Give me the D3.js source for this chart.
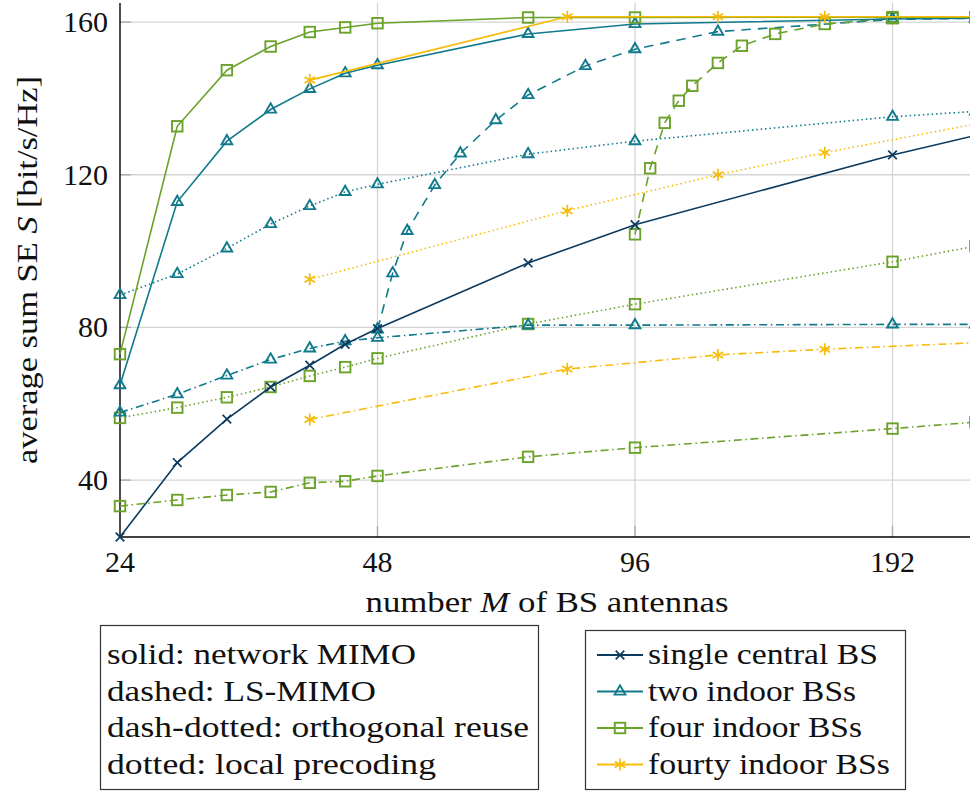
<!DOCTYPE html>
<html>
<head>
<meta charset="utf-8">
<script src="https://cdn.jsdelivr.net/npm/d3@7"></script>
<style>
  html, body { margin: 0; padding: 0; background: #fff; }
  svg { display: block; }
  svg text { fill: #111; }
</style>
</head>
<body>
<svg id="chart" width="970" height="792" font-family="'Liberation Serif', 'DejaVu Serif', 'Noto Serif', serif"></svg>
<script>
// Number of BS antennas used for each group of curves
const M_BASE = [24, 28, 32, 36, 40, 44, 48, 72, 96, 192, 240];
const M_FOURTY = [40, 80, 120, 160, 240];
const M_LS_TWO = [48, 50, 52, 56, 60, 66, 72, 84, 96, 120, 192, 240];
const M_LS_FOUR = [96, 100, 104, 108, 112, 120, 128, 140, 160, 192, 240];

// Average sum SE [bit/s/Hz]
const singleNetwork = [25.1, 44.6, 56.0, 64.4, 70.1, 75.6, 79.7, 96.9, 106.9, 125.2, 130.3];
const twoNetwork    = [64.9, 112.9, 128.8, 137.1, 142.5, 146.6, 148.7, 156.9, 159.5, 160.8, 161.0];
const fourNetwork   = [73.0, 132.7, 147.4, 153.6, 157.4, 158.6, 159.7, 161.2, 161.2, 161.3, 161.3];
const fourtyNetwork = [144.8, 161.4, 161.4, 161.4, 161.4];

const twoLS  = [79.5, 94.2, 105.3, 117.3, 125.6, 134.3, 140.9, 148.5, 152.9, 157.5, 160.7, 161.0];
const fourLS = [104.4, 121.7, 133.6, 139.4, 143.3, 149.3, 153.8, 156.9, 159.5, 161.0, 161.2];

const twoReuse    = [57.7, 62.5, 67.4, 71.6, 74.5, 76.4, 77.3, 80.6, 80.6, 80.8, 80.8];
const fourReuse   = [33.2, 34.8, 36.1, 36.9, 39.3, 39.7, 41.1, 46.1, 48.5, 53.5, 55.2];
const fourtyReuse = [55.9, 69.1, 72.8, 74.3, 76.0];

const twoLocal    = [88.5, 94.0, 100.7, 107.1, 111.8, 115.5, 117.5, 125.4, 128.8, 135.2, 136.6];
const fourLocal   = [56.3, 59.0, 61.7, 64.4, 67.3, 69.6, 71.9, 80.9, 86.1, 97.2, 101.3];
const fourtyLocal = [92.6, 110.6, 120.0, 125.8, 133.3];

const xTicks = [24, 48, 96, 192];
const yTicks = [40, 80, 120, 160];

const styleLabels = ["solid: network MIMO", "dashed: LS-MIMO",
                     "dash-dotted: orthogonal reuse", "dotted: local precoding"];
const setupLabels = ["single central BS", "two indoor BSs", "four indoor BSs", "fourty indoor BSs"];

// Deployment styling: colour + marker
const setups = {
  single: { color: "#0b3a5f", marker: "cross" },
  two:    { color: "#107a8c", marker: "triangle" },
  four:   { color: "#6aa22a", marker: "square" },
  fourty: { color: "#f7bb08", marker: "star" }
};
const dashes = {
  solid: null,
  dashed: "9.5,7",
  dashdot: "8,3.6,1.5,3.6",
  dotted: "1.5,2.9"
};

const series = [
  { setup: "two",    dash: "dotted",  x: M_BASE,    y: twoLocal },
  { setup: "four",   dash: "dotted",  x: M_BASE,    y: fourLocal },
  { setup: "fourty", dash: "dotted",  x: M_FOURTY,  y: fourtyLocal },
  { setup: "two",    dash: "dashdot", x: M_BASE,    y: twoReuse },
  { setup: "four",   dash: "dashdot", x: M_BASE,    y: fourReuse },
  { setup: "fourty", dash: "dashdot", x: M_FOURTY,  y: fourtyReuse },
  { setup: "two",    dash: "dashed",  x: M_LS_TWO,  y: twoLS },
  { setup: "four",   dash: "dashed",  x: M_LS_FOUR, y: fourLS },
  { setup: "single", dash: "solid",   x: M_BASE,    y: singleNetwork },
  { setup: "two",    dash: "solid",   x: M_BASE,    y: twoNetwork },
  { setup: "four",   dash: "solid",   x: M_BASE,    y: fourNetwork },
  { setup: "fourty", dash: "solid",   x: M_FOURTY,  y: fourtyNetwork }
];

const svg = d3.select("#chart");
const plot = { left: 120, top: 3, bottom: 537 };

const x = d3.scaleLog().base(2).domain([24, 240]).range([plot.left, 975.4]);
const y = d3.scaleLinear().domain([25.1, 165]).range([plot.bottom, plot.top]);

// Grid
const grid = svg.append("g");
grid.selectAll("line.gy").data(yTicks).join("line")
  .attr("x1", plot.left).attr("x2", 970)
  .attr("y1", d => y(d)).attr("y2", d => y(d))
  .attr("stroke", "#d4d4d4").attr("stroke-width", 1.3);
grid.selectAll("line.gx").data(xTicks.slice(1)).join("line")
  .attr("x1", d => x(d)).attr("x2", d => x(d))
  .attr("y1", plot.top).attr("y2", plot.bottom)
  .attr("stroke", "#d4d4d4").attr("stroke-width", 1.3);
// Tick marks
grid.selectAll("line.ty").data(yTicks).join("line")
  .attr("x1", plot.left).attr("x2", plot.left + 11)
  .attr("y1", d => y(d)).attr("y2", d => y(d))
  .attr("stroke", "#a8a8a8").attr("stroke-width", 1.3);
grid.selectAll("line.tx").data(xTicks.slice(1)).join("line")
  .attr("x1", d => x(d)).attr("x2", d => x(d))
  .attr("y1", plot.bottom).attr("y2", plot.bottom - 11)
  .attr("stroke", "#a8a8a8").attr("stroke-width", 1.3);

// Axis lines
svg.append("line").attr("x1", plot.left).attr("x2", plot.left)
  .attr("y1", plot.top).attr("y2", plot.bottom)
  .attr("stroke", "#000").attr("stroke-width", 1.4);
svg.append("line").attr("x1", plot.left).attr("x2", 970)
  .attr("y1", plot.bottom).attr("y2", plot.bottom)
  .attr("stroke", "#000").attr("stroke-width", 1.4);

// Tick labels
svg.selectAll("text.yt").data(yTicks).join("text")
  .attr("x", 108).attr("y", d => y(d) + 10)
  .attr("text-anchor", "end").attr("font-size", 30)
  .text(d => d);
svg.selectAll("text.xt").data(xTicks).join("text")
  .attr("x", d => x(d)).attr("y", 572)
  .attr("text-anchor", "middle").attr("font-size", 30)
  .text(d => d);

// Axis titles
const xt = svg.append("text").attr("x", 547).attr("y", 612)
  .attr("text-anchor", "middle").attr("font-size", 30)
  .attr("textLength", 363).attr("lengthAdjust", "spacingAndGlyphs");
xt.append("tspan").text("number ");
xt.append("tspan").attr("font-style", "italic").text("M");
xt.append("tspan").text(" of BS antennas");

const yt = svg.append("text")
  .attr("transform", "translate(37,270) rotate(-90)")
  .attr("text-anchor", "middle").attr("font-size", 30)
  .attr("textLength", 388).attr("lengthAdjust", "spacingAndGlyphs");
yt.append("tspan").text("average sum SE ");
yt.append("tspan").attr("font-style", "italic").text("S");
yt.append("tspan").text(" [bit/s/Hz]");

// Marker shapes (hollow)
function drawMarker(g, type, cx, cy, color) {
  if (type === "cross") {
    const r = 4.3;
    g.append("path")
      .attr("d", `M${cx - r},${cy - r}L${cx + r},${cy + r}M${cx - r},${cy + r}L${cx + r},${cy - r}`)
      .attr("stroke", color).attr("stroke-width", 1.7).attr("fill", "none");
  } else if (type === "triangle") {
    const r = 6.2;
    const pts = [[cx, cy - r], [cx + r * 0.866, cy + r * 0.5], [cx - r * 0.866, cy + r * 0.5]];
    g.append("path").attr("d", "M" + pts.map(p => p.join(",")).join("L") + "Z")
      .attr("stroke", color).attr("stroke-width", 1.9).attr("fill", "none")
      .attr("stroke-linejoin", "miter");
  } else if (type === "square") {
    const s = 10.5;
    g.append("rect").attr("x", cx - s / 2).attr("y", cy - s / 2)
      .attr("width", s).attr("height", s)
      .attr("stroke", color).attr("stroke-width", 1.9).attr("fill", "none");
  } else if (type === "star") {
    const r = 6;
    const d = [90, 30, 150].map(a => {
      const t = a * Math.PI / 180;
      const dx = r * Math.cos(t), dy = r * Math.sin(t);
      return `M${cx - dx},${cy + dy}L${cx + dx},${cy - dy}`;
    }).join("");
    g.append("path").attr("d", d)
      .attr("stroke", color).attr("stroke-width", 1.7).attr("fill", "none");
  }
}

const line = d3.line().x(d => x(d[0])).y(d => y(d[1]));
const curves = svg.append("g");
series.forEach(s => {
  const st = setups[s.setup];
  const pts = s.x.map((m, i) => [m, s.y[i]]);
  curves.append("path").datum(pts)
    .attr("d", line)
    .attr("fill", "none")
    .attr("stroke", st.color)
    .attr("stroke-width", 1.6)
    .attr("stroke-dasharray", dashes[s.dash]);
  const mg = curves.append("g");
  pts.forEach(p => drawMarker(mg, st.marker, x(p[0]), y(p[1]), st.color));
});

// Legend: line styles
const lg1 = svg.append("g");
lg1.append("rect").attr("x", 100.5).attr("y", 625.5).attr("width", 438).attr("height", 164)
  .attr("fill", "#fff").attr("stroke", "#333").attr("stroke-width", 1.2);
const widths1 = [309, 269, 422, 329];
styleLabels.forEach((t, i) => {
  lg1.append("text").attr("x", 107).attr("y", 664 + i * 36.5)
    .attr("font-size", 30)
    .attr("textLength", widths1[i]).attr("lengthAdjust", "spacingAndGlyphs")
    .text(t);
});

// Legend: deployments
const lg2 = svg.append("g");
lg2.append("rect").attr("x", 585.5).attr("y", 630.5).attr("width", 320).attr("height", 159)
  .attr("fill", "#fff").attr("stroke", "#333").attr("stroke-width", 1.2);
const widths2 = [230, 208, 214, 242];
const keys = ["single", "two", "four", "fourty"];
keys.forEach((k, i) => {
  const cy = 655 + i * 36.5;
  const st = setups[k];
  lg2.append("line").attr("x1", 597).attr("x2", 643).attr("y1", cy).attr("y2", cy)
    .attr("stroke", st.color).attr("stroke-width", 1.8);
  drawMarker(lg2, st.marker, 620, cy, st.color);
  lg2.append("text").attr("x", 648).attr("y", cy + 9)
    .attr("font-size", 30)
    .attr("textLength", widths2[i]).attr("lengthAdjust", "spacingAndGlyphs")
    .text(setupLabels[i]);
});
</script>
</body>
</html>
